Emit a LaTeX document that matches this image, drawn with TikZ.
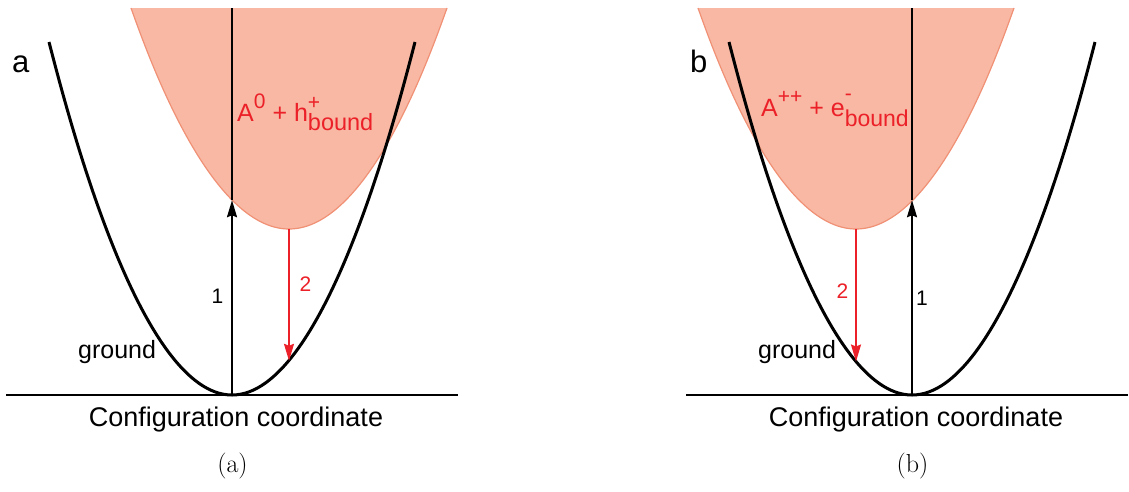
\documentclass[tikz,border=0pt]{standalone}
\usepackage{fontspec}
\newfontfamily\arialfont{Liberation Sans}
\usetikzlibrary{arrows.meta}
\definecolor{bandfill}{RGB}{248,184,163}
\definecolor{bandedge}{RGB}{240,145,118}
\definecolor{labred}{RGB}{236,32,40}
\newcommand\fs[1]{\fontsize{#1}{#1}\selectfont}
\begin{document}
\begin{tikzpicture}[x=1pt,y=-1pt,
  ground/.style={line width=3pt},
  band/.style={fill=bandfill},
  bandline/.style={draw=bandedge,line width=1.2pt},
  axis/.style={line width=1.3pt},
  absorb/.style={line width=2pt,-{Stealth[length=17pt,width=10pt,inset=2pt]}},
  emit/.style={draw=labred,line width=1.6pt,-{Stealth[length=17pt,width=10pt,inset=2pt]}},
  lbl/.style={font=\arialfont\fs{25},inner sep=0pt},
  num/.style={font=\arialfont\fs{21},inner sep=0pt,anchor=base},
  captext/.style={font=\fs{26},inner sep=0pt,anchor=base}]
\useasboundingbox (0,0) rectangle (1129,491);

% panel a
\fill[band] (131,8) parabola bend (289,229) (447,8) -- cycle;
\draw[bandline] (131,8) parabola bend (289,229) (447,8);
\draw[ground] (49,42) parabola bend (232,395) (415,42);
\draw[axis] (6,395) -- (458,395);
\coordinate (a-gnd) at (232,395);
\coordinate (a-hit) at (232,200.2);
\coordinate (a-top) at (232,8);
\coordinate (a-exc) at (289,229);
\coordinate (a-end) at (289,360.8);
\draw[absorb] (a-gnd) -- (a-hit);
\draw[line width=1.2pt] (a-hit) -- (a-top);
\draw[emit] (a-exc) -- (a-end);
\node[lbl,font=\arialfont\fs{31},anchor=base west] (a-tag) at (12,72) {a};
\node[lbl,anchor=base west] (a-ground) at (78,358) {ground};
\node[num] (a-one) at (217.5,303.5) {1};
\node[num,text=labred] (a-two) at (305.5,291.7) {2};
\node[lbl,text=labred,anchor=base west] (a-state) at (237,121.7)
  {A\raisebox{13.5pt}{\fs{21}0} + h\rlap{\raisebox{12.3pt}{\fs{21}+}}\raisebox{-8.3pt}{\fs{23.5}bound}};
\node[lbl,font=\arialfont\fs{27},anchor=base] (a-axis) at (236,426.5) {Configuration coordinate};
\node[captext] (a-cap) at (232.5,472.7) {(a)};

% panel b
\begin{scope}[xshift=680pt]
\fill[band] (18,8) parabola bend (176,229) (334,8) -- cycle;
\draw[bandline] (18,8) parabola bend (176,229) (334,8);
\draw[ground] (49,42) parabola bend (232,395) (415,42);
\draw[axis] (6,395) -- (448,395);
\coordinate (b-gnd) at (232,395);
\coordinate (b-hit) at (232,200.2);
\coordinate (b-top) at (232,8);
\coordinate (b-exc) at (176,229);
\coordinate (b-end) at (176,361.5);
\draw[absorb] (b-gnd) -- (b-hit);
\draw[line width=1.2pt] (b-hit) -- (b-top);
\draw[emit] (b-exc) -- (b-end);
\node[lbl,font=\arialfont\fs{31},anchor=base west] (b-tag) at (10,72) {b};
\node[lbl,anchor=base west] (b-ground) at (78,358) {ground};
\node[num] (b-one) at (242,305) {1};
\node[num,text=labred] (b-two) at (162.5,298) {2};
\node[lbl,text=labred,anchor=base west] (b-state) at (81,116.7)
  {A\raisebox{13.7pt}{\fs{21}++} + e\rlap{\raisebox{16pt}{\fs{21}-}}\raisebox{-9.3pt}{\fs{23}bound}};
\node[lbl,font=\arialfont\fs{27},anchor=base] (b-axis) at (236,426.5) {Configuration coordinate};
\node[captext] (b-cap) at (232.5,472.7) {(b)};
\end{scope}
\end{tikzpicture}
\end{document}
